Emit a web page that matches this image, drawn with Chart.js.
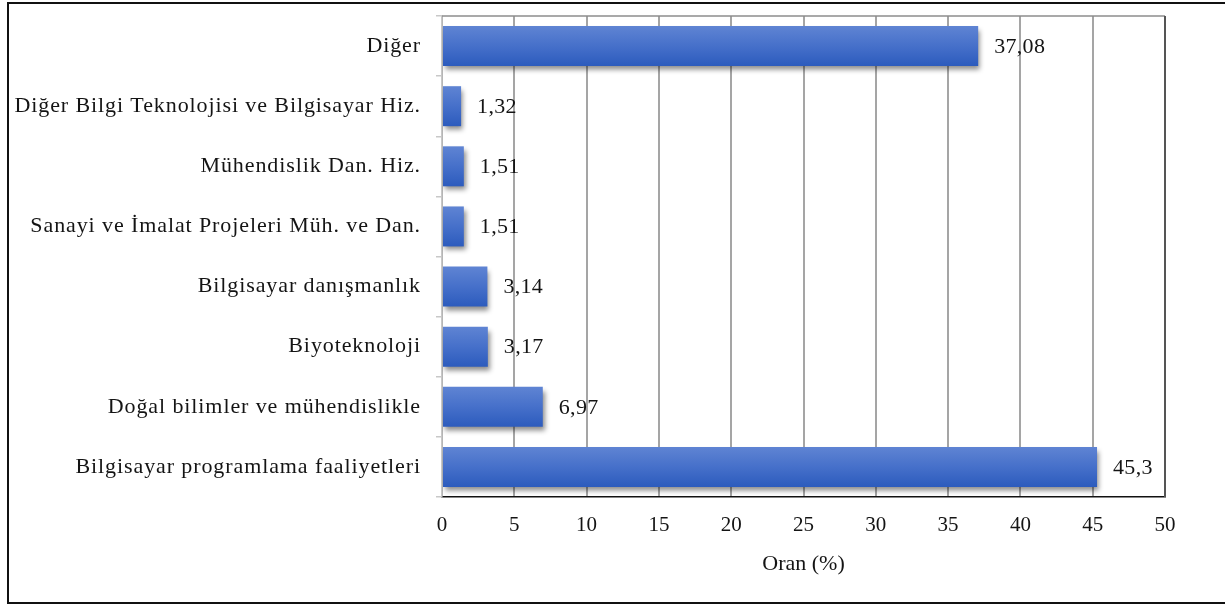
<!DOCTYPE html>
<html>
<head>
<meta charset="utf-8">
<script src="https://cdn.jsdelivr.net/npm/chart.js@4"></script>
<style>
  body { margin: 0; background: #fff; }
  #wrap { width: 1225px; height: 606px; }
</style>
</head>
<body>
<div id="wrap"><canvas id="myChart" width="1225" height="606"></canvas></div>
<script>
//---------------------------
// DATA
//---------------------------
const categories = [
    'Diğer',
    'Diğer Bilgi Teknolojisi ve Bilgisayar Hiz.',
    'Mühendislik Dan. Hiz.',
    'Sanayi ve İmalat Projeleri Müh. ve Dan.',
    'Bilgisayar danışmanlık',
    'Biyoteknoloji',
    'Doğal bilimler ve mühendislikle',
    'Bilgisayar programlama faaliyetleri'
];
const oranValues = [37.08, 1.32, 1.51, 1.51, 3.14, 3.17, 6.97, 45.3];
const xTicks = [0, 5, 10, 15, 20, 25, 30, 35, 40, 45, 50];
const axisTitle = 'Oran (%)';

const serif = "'Liberation Serif', 'Times New Roman', serif";
const textColor = '#141414';

// vertical gradient for every bar, built from the y scale
function barGradient(c) {
    const chart = c.chart;
    const y = chart.scales.y;
    if (!chart.chartArea || !y || c.dataIndex === undefined) return '#3f6bc9';
    const center = y.getPixelForValue(c.dataIndex);
    const half = (y.height / categories.length) * 0.665 / 2;
    const g = chart.ctx.createLinearGradient(0, center - half, 0, center + half);
    g.addColorStop(0, '#5f84d3');
    g.addColorStop(0.5, '#4670ca');
    g.addColorStop(1, '#2c5bbd');
    return g;
}

const barDecor = {
    id: 'barDecor',
    beforeDatasetsDraw(chart) {
        const ctx = chart.ctx;
        ctx.save();
        ctx.shadowColor = 'rgba(0, 0, 0, 0.45)';
        ctx.shadowBlur = 5;
        ctx.shadowOffsetX = 2;
        ctx.shadowOffsetY = 4;
    },
    afterDatasetsDraw(chart) {
        const ctx = chart.ctx;
        ctx.restore();
        // value labels
        ctx.save();
        ctx.font = '22px ' + serif;
        ctx.letterSpacing = '0.3px';
        ctx.fillStyle = textColor;
        ctx.textBaseline = 'middle';
        ctx.textAlign = 'left';
        const meta = chart.getDatasetMeta(0);
        meta.data.forEach((bar, i) => {
            const txt = String(oranValues[i]).replace('.', ',');
            ctx.fillText(txt, bar.x + 16, bar.y + 1);
        });
        ctx.restore();
    },
    afterDraw(chart) {
        const ctx = chart.ctx;
        const a = chart.chartArea;
        ctx.save();
        // category labels (wide letter spacing as in the original)
        const y = chart.scales.y;
        ctx.font = '22px ' + serif;
        ctx.letterSpacing = '0.9px';
        ctx.fillStyle = textColor;
        ctx.textAlign = 'right';
        ctx.textBaseline = 'middle';
        categories.forEach((c, i) => {
            ctx.fillText(c, 421, y.getPixelForValue(i));
        });
        ctx.letterSpacing = '0px';
        // plot top and right edge
        ctx.lineWidth = 1.5;
        ctx.strokeStyle = '#8c8c8c';
        ctx.beginPath();
        ctx.moveTo(a.left, a.top);
        ctx.lineTo(a.right, a.top);
        ctx.stroke();
        ctx.lineWidth = 2;
        ctx.strokeStyle = '#555';
        ctx.beginPath();
        ctx.moveTo(a.right, a.top);
        ctx.lineTo(a.right, a.bottom);
        ctx.stroke();
        // outer frame
        ctx.lineWidth = 2;
        ctx.strokeStyle = '#111';
        ctx.strokeRect(8, 3, 1230, 600);
        ctx.restore();
    }
};

const ctx = document.getElementById('myChart');

new Chart(ctx, {
    type: 'bar',
    data: {
        labels: categories,
        datasets: [{
            label: axisTitle,
            data: oranValues,
            backgroundColor: barGradient,
            borderWidth: 0,
            barPercentage: 0.665,
            categoryPercentage: 1
        }]
    },
    options: {
        indexAxis: 'y',
        responsive: false,
        animation: false,
        events: [],
        layout: {
            padding: { left: 0, top: 16, right: 60, bottom: 0 }
        },
        plugins: {
            legend: { display: false },
            tooltip: { enabled: false }
        },
        scales: {
            x: {
                min: 0,
                max: 50,
                afterBuildTicks: (s) => { s.ticks = xTicks.map(v => ({ value: v })); },
                afterFit: (s) => { s.height = 109; },
                grid: {
                    color: '#a5a5a5',
                    lineWidth: 2,
                    drawTicks: false
                },
                border: { display: true, color: '#111', width: 1.5 },
                ticks: {
                    padding: 16,
                    color: textColor,
                    font: { family: serif, size: 21 }
                },
                title: {
                    display: true,
                    text: axisTitle,
                    color: textColor,
                    font: { family: serif, size: 22 },
                    padding: { top: 0, bottom: 29 }
                }
            },
            y: {
                afterFit: (s) => { s.width = 442; },
                grid: {
                    drawOnChartArea: false,
                    drawTicks: true,
                    tickLength: 6,
                    color: '#c8c8c8',
                    lineWidth: 1.5
                },
                border: { display: true, color: '#c8c8c8', width: 1.5 },
                ticks: { display: false }
            }
        }
    },
    plugins: [barDecor]
});
</script>
</body>
</html>
